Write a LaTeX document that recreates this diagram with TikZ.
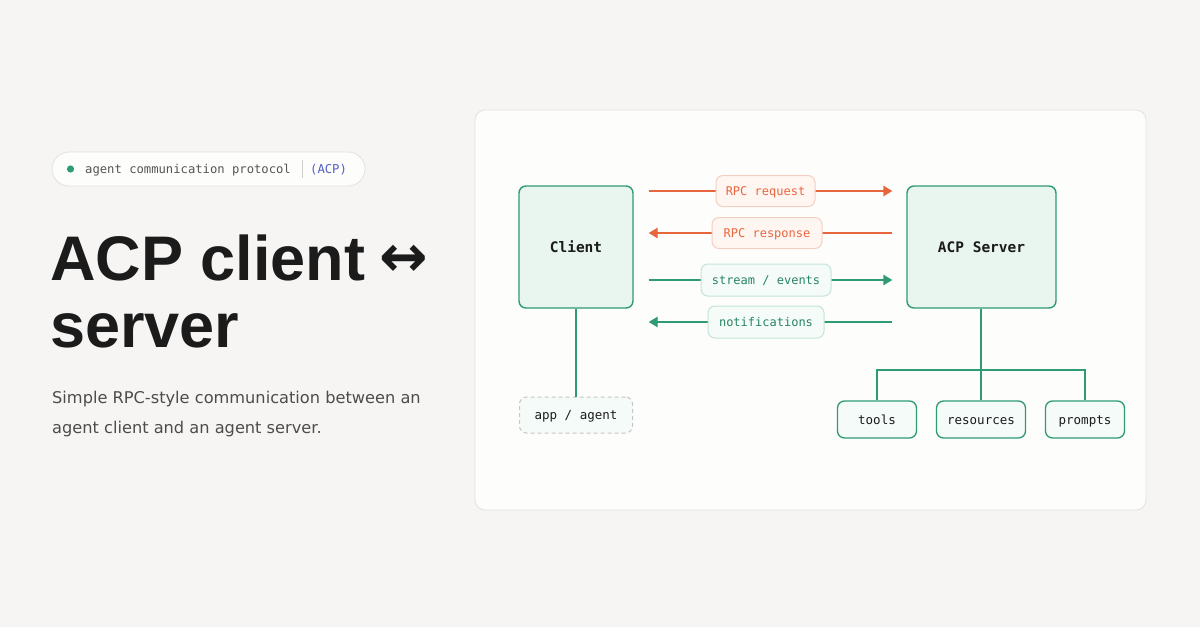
\documentclass[tikz,border=0pt]{standalone}
\usepackage{fontspec}
\setmainfont{Liberation Sans}
\setmonofont{DejaVu Sans Mono}
\newfontfamily\arrowfont{DejaVu Sans}
\newfontfamily\subfont{DejaVu Sans}
\usetikzlibrary{arrows.meta,calc}
\definecolor{bg}{HTML}{F7F5F3}
\definecolor{panel}{HTML}{FDFDFC}
\definecolor{panelborder}{HTML}{E3E1DE}
\definecolor{grn}{HTML}{2F9B73}
\definecolor{grnfill}{HTML}{E9F6EF}
\definecolor{grnlabfill}{HTML}{F5FBF8}
\definecolor{grnlabborder}{HTML}{C5E4D6}
\definecolor{org}{HTML}{E8663E}
\definecolor{orglabfill}{HTML}{FFF6F2}
\definecolor{orglabborder}{HTML}{F4CFC1}
\definecolor{ink}{HTML}{1B1B1B}
\definecolor{graytxt}{HTML}{555555}
\definecolor{acpblue}{HTML}{4F5FC4}
\tikzset{
  bigbox/.style={draw=grn, fill=grnfill, line width=1.4pt, rounded corners=7pt, inner sep=0pt, font=\ttfamily\bfseries\fontsize{14.5}{16}\selectfont, text=ink, text height=11pt, text depth=1pt},
  leaf/.style={draw=grn, fill=grnlabfill, line width=1.3pt, rounded corners=7pt, inner sep=0pt, minimum height=37pt, font=\ttfamily\fontsize{12.5}{14}\selectfont, text=ink, text height=10pt, text depth=1pt},
  olab/.style={draw=orglabborder, fill=orglabfill, line width=1pt, rounded corners=7pt, inner sep=0pt, minimum height=31pt, text=org, font=\ttfamily\fontsize{12}{14}\selectfont, text height=10pt, text depth=1pt},
  glab/.style={draw=grnlabborder, fill=grnlabfill, line width=1pt, rounded corners=7pt, inner sep=0pt, minimum height=32pt, text=grn!85!black, font=\ttfamily\fontsize{12}{14}\selectfont, text height=10pt, text depth=1pt},
  oarrow/.style={draw=org, line width=1.4pt, -{Triangle[length=9pt,width=10.5pt]}},
  garrow/.style={draw=grn, line width=1.4pt, -{Triangle[length=9pt,width=10.5pt]}},
  gline/.style={draw=grn, line width=1.5pt},
}
\begin{document}
\begin{tikzpicture}[x=1pt,y=-1pt]
\useasboundingbox (0,0) rectangle (1200,627);
\fill[bg] (0,0) rectangle (1200,627);
% panel
\draw[panelborder, fill=panel, line width=0.8pt, rounded corners=10pt] (475,110) rectangle (1146,510);

% pill
\node[draw=panelborder, fill=panel, line width=0.8pt, rounded corners=17pt, minimum width=313pt, minimum height=34pt, inner sep=0pt] (pill) at (208.5,169) {};
\fill[grn] (70.5,169) circle (3.6pt);
\node[anchor=west, inner sep=0pt, text=graytxt, font=\ttfamily\fontsize{12.2}{14}\selectfont, text height=10pt, text depth=1pt] (pilltext) at (85,169) {agent communication protocol};
\draw[panelborder!80!gray, line width=0.9pt] (302,160) -- (302,178);
\node[anchor=west, inner sep=0pt, text=acpblue, font=\ttfamily\fontsize{12.2}{14}\selectfont, text height=10pt, text depth=1pt] (acp) at (310,169) {(ACP)};

% title
\node[anchor=base west, inner sep=0pt, text=ink, font=\bfseries\fontsize{63}{70}\selectfont] (t1) at (50,280) {ACP client};
\node[anchor=base west, inner sep=0pt, text=ink, font=\arrowfont\bfseries\fontsize{58}{64}\selectfont] (t1a) at (379,276) {↔};
\node[anchor=base west, inner sep=0pt, text=ink, font=\bfseries\fontsize{63}{70}\selectfont] (t2) at (50,347) {server};
% subtitle
\node[anchor=base west, inner sep=0pt, text=graytxt!90!black, font=\subfont\fontsize{16.2}{20}\selectfont] (s1) at (52,403) {Simple RPC-style communication between an};
\node[anchor=base west, inner sep=0pt, text=graytxt!90!black, font=\subfont\fontsize{16.2}{20}\selectfont] (s2) at (52,433) {agent client and an agent server.};

% main boxes
\node[bigbox, minimum width=114pt, minimum height=122pt] (client) at (576,247) {Client};
\node[bigbox, minimum width=149pt, minimum height=122pt] (server) at (981.5,247) {ACP Server};

% arrow rows
\coordinate (yreq) at (0,191);
\coordinate (yres) at (0,233);
\coordinate (ystr) at (0,280);
\coordinate (ynot) at (0,322);

\draw[oarrow, shorten <=15pt, shorten >=14pt] (client.east |- yreq) -- (server.west |- yreq);
\draw[oarrow, shorten <=14pt, shorten >=15pt] (server.west |- yres) -- (client.east |- yres);
\draw[garrow, shorten <=15pt, shorten >=14pt] (client.east |- ystr) -- (server.west |- ystr);
\draw[garrow, shorten <=14pt, shorten >=15pt] (server.west |- ynot) -- (client.east |- ynot);

\node[olab, minimum width=99pt] (req) at (765.5,191) {RPC request};
\node[olab, minimum width=110pt] (res) at (767,233) {RPC response};
\node[glab, minimum width=130pt] (str) at (766,280) {stream / events};
\node[glab, minimum width=116pt] (not) at (766,322) {notifications};

% app / agent
\node[draw=gray!45, dashed, dash pattern=on 4pt off 3pt, fill=grnlabfill, line width=1pt, rounded corners=7pt, minimum width=113pt, minimum height=36pt, inner sep=0pt, font=\ttfamily\fontsize{12.5}{14}\selectfont, text=ink, text height=10pt, text depth=1pt] (app) at (576,415) {app / agent};
\draw[gline] (client.south) -- (app.north);

% leaves
\node[leaf, minimum width=79pt] (tools) at (877,419.5) {tools};
\node[leaf, minimum width=89pt] (resources) at (981,419.5) {resources};
\node[leaf, minimum width=79pt] (prompts) at (1085,419.5) {prompts};
\coordinate (bus) at (981,370);
\draw[gline] (server.south -| bus) -- (bus);
\draw[gline] (tools.north) -- (tools.north |- bus) -- (prompts.north |- bus) -- (prompts.north);
\draw[gline] (resources.north) -- (resources.north |- bus);
\end{tikzpicture}
\end{document}
